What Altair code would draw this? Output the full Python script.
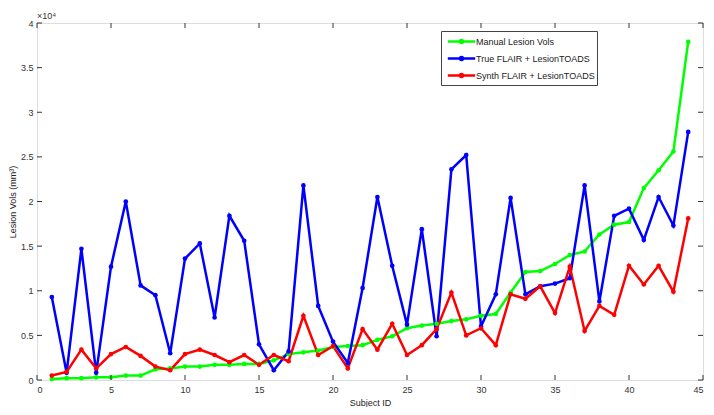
import altair as alt
import pandas as pd

subjects = list(range(1, 45))
manual = [0.01, 0.02, 0.02, 0.03, 0.03, 0.05, 0.05, 0.12, 0.13, 0.15, 0.15, 0.17, 0.17, 0.18, 0.18,
          0.22, 0.29, 0.31, 0.33, 0.37, 0.38, 0.39, 0.45, 0.49, 0.58, 0.61, 0.63, 0.66, 0.68, 0.72,
          0.74, 0.98, 1.21, 1.22, 1.30, 1.40, 1.44, 1.63, 1.74, 1.77, 2.15, 2.35, 2.56, 3.79]
true_flair = [0.93, 0.08, 1.47, 0.08, 1.27, 2.00, 1.06, 0.95, 0.30, 1.36, 1.53, 0.70, 1.84, 1.56, 0.40,
              0.11, 0.32, 2.18, 0.83, 0.43, 0.19, 1.03, 2.05, 1.28, 0.62, 1.69, 0.49, 2.36, 2.52, 0.60,
              0.96, 2.04, 0.96, 1.05, 1.08, 1.14, 2.18, 0.88, 1.84, 1.92, 1.57, 2.05, 1.73, 2.78]
synth_flair = [0.05, 0.09, 0.34, 0.13, 0.29, 0.37, 0.27, 0.15, 0.11, 0.29, 0.34, 0.28, 0.20, 0.28, 0.17,
               0.28, 0.21, 0.72, 0.28, 0.38, 0.13, 0.57, 0.34, 0.63, 0.28, 0.39, 0.57, 0.98, 0.50, 0.58,
               0.39, 0.96, 0.91, 1.05, 0.75, 1.27, 0.55, 0.83, 0.73, 1.28, 1.07, 1.28, 0.99, 1.81]
series_names = ["Manual Lesion Vols", "True FLAIR + LesionTOADS", "Synth FLAIR + LesionTOADS"]
series_colors = ["#00ff00", "#0000ff", "#ff0000"]
x_ticks = [0, 5, 10, 15, 20, 25, 30, 35, 40, 45]
y_ticks = [0, 5000, 10000, 15000, 20000, 25000, 30000, 35000, 40000]

rows = []
for name, vals in zip(series_names, [manual, true_flair, synth_flair]):
    for s, v in zip(subjects, vals):
        rows.append({"subject": s, "vol": v * 10000, "series": name})
df = pd.DataFrame(rows)

W, H = 666, 357
xs = alt.Scale(domain=[0, 45], nice=False, zero=False)
ys = alt.Scale(domain=[0, 40000], nice=False)
FONT = "Liberation Sans"
FS = 9

x_axis = alt.Axis(values=x_ticks, ticks=False, domain=False, grid=False, labelPadding=5,
                  labelFontSize=FS, labelColor="#333", labelFont=FONT, title="Subject ID",
                  titleFont=FONT, titleFontSize=FS, titleFontWeight="normal", titleColor="#222",
                  titleBaseline="alphabetic", titleY=25)
y_axis = alt.Axis(values=y_ticks, ticks=False, domain=False, grid=False, labelPadding=4,
                  labelFontSize=FS, labelColor="#333", labelFont=FONT,
                  labelExpr="datum.value / 10000", title="Lesion Vols (mm³)",
                  titleFont=FONT, titleFontSize=FS, titleFontWeight="normal", titleColor="#222",
                  titleBaseline="alphabetic", titleX=-22, titleY=H / 2)

legend_sym = "M-2,0H2M-0.22,0a0.22,0.22 0 1,0 0.44,0a0.22,0.22 0 1,0 -0.44,0"

lines = alt.Chart(df).mark_line(strokeWidth=2.5, point=alt.OverlayMarkDef(filled=True, size=22)).encode(
    x=alt.X("subject:Q", scale=xs, axis=x_axis),
    y=alt.Y("vol:Q", scale=ys, axis=y_axis),
    color=alt.Color("series:N", sort=series_names,
                    scale=alt.Scale(domain=series_names, range=series_colors),
                    legend=alt.Legend(title=None, orient="none", legendX=404, legendY=8,
                                      symbolType=legend_sym, symbolSize=188,
                                      symbolStrokeWidth=2.5, symbolOffset=10,
                                      labelFont=FONT, labelFontSize=FS,
                                      labelColor="#222", strokeColor="#444", fillColor="white",
                                      padding=2, rowPadding=1, labelOffset=6)),
)

xt = pd.DataFrame({"t": x_ticks})
yt = pd.DataFrame({"t": y_ticks})
tick_color = "#333"
bottom = alt.Chart(xt).mark_rule(color=tick_color).encode(
    x=alt.X("t:Q", scale=xs, axis=x_axis), y=alt.value(H), y2=alt.value(H - 5))
top = alt.Chart(xt).mark_rule(color=tick_color).encode(
    x=alt.X("t:Q", scale=xs, axis=x_axis), y=alt.value(0), y2=alt.value(5))
left = alt.Chart(yt).mark_rule(color=tick_color).encode(
    y=alt.Y("t:Q", scale=ys, axis=y_axis), x=alt.value(0), x2=alt.value(5))
right = alt.Chart(yt).mark_rule(color=tick_color).encode(
    y=alt.Y("t:Q", scale=ys, axis=y_axis), x=alt.value(W), x2=alt.value(W - 5))

chart = alt.layer(lines, bottom, top, left, right).properties(
    width=W, height=H,
    title=alt.TitleParams("×10⁴", anchor="start", frame="group", font=FONT, fontSize=FS,
                          fontWeight="normal", color="#333", offset=4, baseline="alphabetic",
                          dy=13),
    autosize=alt.AutoSizeParams(type="none"),
    padding={"left": 29, "top": 15, "right": 3, "bottom": 27},
).configure_view(stroke="#444", strokeWidth=1.2).configure(background="white")

chart.save("out.html", embed_options={"renderer": "svg", "actions": False})
